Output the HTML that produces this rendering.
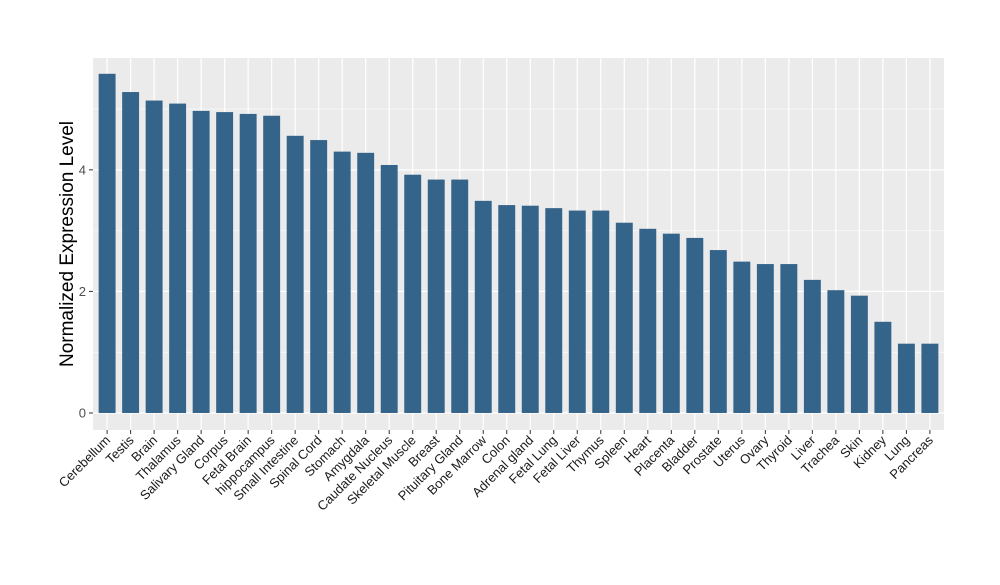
<!DOCTYPE html>
<html><head><meta charset="utf-8"><style>
body{margin:0;background:#fff;font-family:"Liberation Sans",Arial,sans-serif}
svg text{font-family:"Liberation Sans",Arial,sans-serif}
</style></head><body>
<svg id="chart" width="1000" height="580">
<rect x="93" y="58" width="851" height="372" fill="#ebebeb"/>
<g id="grid"></g><g id="bars"></g><g id="yaxis"></g><g id="xaxis"></g>
<text x="73" y="244" transform="rotate(-90 73 244)" text-anchor="middle" font-size="19" fill="#000">Normalized Expression Level</text>
</svg>
<script>
const categories=["Cerebellum","Testis","Brain","Thalamus","Salivary Gland","Corpus","Fetal Brain","hippocampus","Small Intestine","Spinal Cord","Stomach","Amygdala","Caudate Nucleus","Skeletal Muscle","Breast","Pituitary Gland","Bone Marrow","Colon","Adrenal gland","Fetal Lung","Fetal Liver","Thymus","Spleen","Heart","Placenta","Bladder","Prostate","Uterus","Ovary","Thyroid","Liver","Trachea","Skin","Kidney","Lung","Pancreas"];
const values=[5.58,5.28,5.14,5.09,4.97,4.95,4.92,4.89,4.56,4.49,4.30,4.28,4.08,3.92,3.84,3.84,3.49,3.42,3.41,3.37,3.33,3.33,3.13,3.03,2.95,2.88,2.68,2.49,2.45,2.45,2.19,2.02,1.93,1.50,1.14,1.14];
const yTicks=[0,2,4];
const yMinor=[1,3,5];
const NS="http://www.w3.org/2000/svg";
const L=93,R=944,T=58,B=430;
const yMin=-0.28,yMax=5.84;
function y(v){return B-(v-yMin)/(yMax-yMin)*(B-T);}
const step=(R-L)/(categories.length+0.2);
function x(i){return L+step*(0.6+i);}
function mk(tag,attrs,parent){const e=document.createElementNS(NS,tag);for(const k in attrs)e.setAttribute(k,attrs[k]);document.getElementById(parent).appendChild(e);return e;}
yMinor.forEach(v=>{const e=mk('line',{x1:L,x2:R,y1:y(v),y2:y(v),stroke:'#fff','stroke-width':0.6},'grid');

});
yTicks.forEach(v=>{const e=mk('line',{x1:L,x2:R,y1:y(v),y2:y(v),stroke:'#fff','stroke-width':1.2},'grid');


const t=mk('line',{x1:L-4,x2:L,y1:y(v),y2:y(v),stroke:'#333','stroke-width':1},'yaxis');


const l=mk('text',{x:L-7,y:y(v)+4.5,'text-anchor':'end','font-size':13,fill:'#4d4d4d'},'yaxis');
l.textContent=v;

});
categories.forEach((c,i)=>{const cx=x(i);
const g=mk('line',{x1:cx,x2:cx,y1:T,y2:B,stroke:'#fff','stroke-width':1.2},'grid');


const b=mk('rect',{x:cx-step*0.36,width:step*0.72,y:y(values[i]),height:y(0)-y(values[i]),fill:'#35648a'},'bars');


const t=mk('line',{x1:cx,x2:cx,y1:B,y2:B+4,stroke:'#333','stroke-width':1},'xaxis');


const l=mk('text',{x:cx+4,y:B+11,'text-anchor':'end','font-size':13,fill:'#1a1a1a',transform:`rotate(-45 ${cx+4} ${B+11})`},'xaxis');
l.textContent=c;

});
</script>
</body></html>
